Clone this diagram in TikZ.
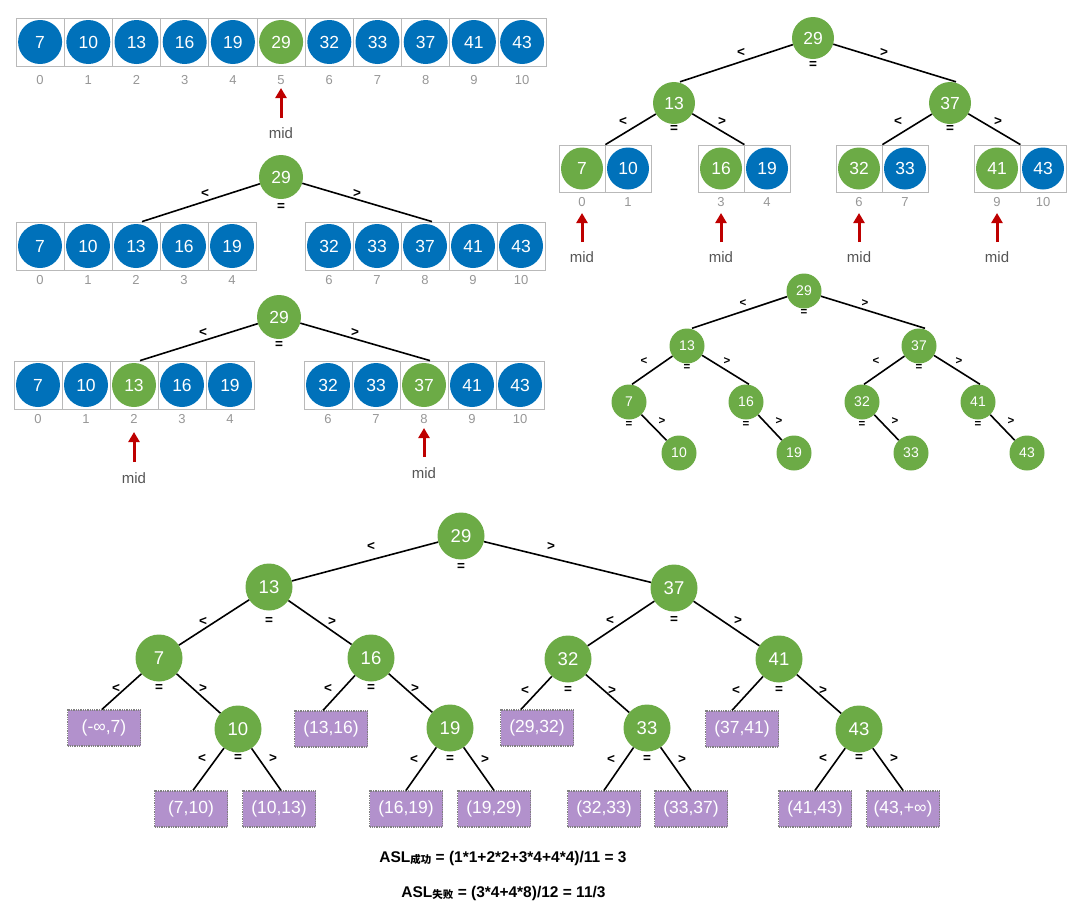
\documentclass[tikz,border=0pt]{standalone}
\usepackage{fontspec}
\setmainfont{Liberation Sans}
\newfontfamily\cjk{Noto Sans CJK SC}
\usetikzlibrary{arrows.meta}
\definecolor{bl}{RGB}{0,113,186}
\definecolor{gr}{RGB}{108,171,70}
\definecolor{pu}{RGB}{178,145,204}
\definecolor{rd}{RGB}{190,0,0}
\definecolor{ig}{RGB}{150,150,150}
\definecolor{cg}{RGB}{185,185,185}
\definecolor{mg}{RGB}{85,85,85}
\begin{document}
\begin{tikzpicture}[x=1pt,y=-1pt,
  ball/.style={circle,inner sep=0pt,minimum size=44pt,text=white,font=\fontsize{17.5}{17.5}\selectfont},
  tball/.style={circle,inner sep=0pt,minimum size=42pt,text=white,font=\fontsize{17.5}{17.5}\selectfont},
  sball/.style={circle,inner sep=0pt,minimum size=35pt,text=white,fill=gr,font=\fontsize{14}{14}\selectfont},
  bball/.style={circle,inner sep=0pt,minimum size=47pt,text=white,fill=gr,font=\fontsize{18.5}{18.5}\selectfont},
  cell/.style={draw=cg,line width=0.8pt,minimum width=48pt,minimum height=48pt,inner sep=0pt},
  tcell/.style={draw=cg,line width=0.8pt,minimum width=46pt,minimum height=47pt,inner sep=0pt},
  idx/.style={text=ig,font=\fontsize{13}{13}\selectfont,inner sep=1pt},
  midl/.style={text=mg,font=\fontsize{15}{15}\selectfont,inner sep=1pt},
  midarr/.style={draw=rd,line width=3pt,-{Triangle[width=11pt,length=10pt]}},
  rel/.style={font=\fontsize{13.5}{13.5}\selectfont\bfseries,inner sep=0pt},
  srel/.style={font=\fontsize{11.5}{11.5}\selectfont\bfseries,inner sep=0pt},
  edge/.style={draw=black,line width=1.6pt},
  ivbox/.style={fill=pu,draw=gray,densely dotted,line width=1.3pt,minimum width=73pt,minimum height=36pt,inner sep=0pt,text=white,font=\fontsize{17.5}{17.5}\selectfont},
  asl/.style={font=\fontsize{15.5}{15.5}\selectfont\bfseries,inner sep=0pt}
]
\path[use as bounding box] (0,0) rectangle (1071,911);

% ---------- row 1 : full array ----------
\foreach \v/\c [count=\n from 0] in {7/bl,10/bl,13/bl,16/bl,19/bl,29/gr,32/bl,33/bl,37/bl,41/bl,43/bl}{
  \node[cell,minimum width=48.2pt] (a\n) at ({40.1+48.2*\n},42) {};
  \node[ball,fill=\c] (ab\n) at (a\n) {\v};
  \node[idx] (ai\n) at ({40.1+48.2*\n},80) {\n};
}
\coordinate (a1t) at (281,118);
\coordinate (a1h) at (281,88);
\draw[midarr] (a1t) -- (a1h);
\node[midl] (am) at (281,133) {mid};

% ---------- row 2 ----------
\node[ball,fill=gr] (r2) at (281,177) {29};
\node[rel] (r2l) at (205,193) {<};
\node[rel] (r2g) at (357,193) {>};
\node[rel] (r2e) at (281,207) {=};
\foreach \v [count=\n from 0] in {7,10,13,16,19}{
  \node[cell] (b\n) at ({40+48*\n},246) {};
  \node[ball,fill=bl] (bb\n) at (b\n) {\v};
  \node[idx] (bi\n) at ({40+48*\n},280) {\n};
}
\foreach \v [count=\k from 0] in {32,33,37,41,43}{
  \pgfmathtruncatemacro{\n}{\k+6}
  \node[cell] (b\n) at ({329+48*\k},246) {};
  \node[ball,fill=bl] (bb\n) at (b\n) {\v};
  \node[idx] (bi\n) at ({329+48*\k},280) {\n};
}
\draw[edge] (r2) -- ([xshift=6pt]b2.north);
\draw[edge] (r2) -- ([xshift=7pt]b8.north);

% ---------- row 3 ----------
\node[ball,fill=gr] (r3) at (279,317) {29};
\node[rel] (r3l) at (203,332) {<};
\node[rel] (r3g) at (355,332) {>};
\node[rel] (r3e) at (279,345) {=};
\foreach \v/\c [count=\n from 0] in {7/bl,10/bl,13/gr,16/bl,19/bl}{
  \node[cell] (c\n) at ({38+48*\n},385) {};
  \node[ball,fill=\c] (cb\n) at (c\n) {\v};
  \node[idx] (ci\n) at ({38+48*\n},419) {\n};
}
\foreach \v/\c [count=\k from 0] in {32/bl,33/bl,37/gr,41/bl,43/bl}{
  \pgfmathtruncatemacro{\n}{\k+6}
  \node[cell] (c\n) at ({328+48*\k},385) {};
  \node[ball,fill=\c] (cb\n) at (c\n) {\v};
  \node[idx] (ci\n) at ({328+48*\k},419) {\n};
}
\draw[edge] (r3) -- ([xshift=6pt]c2.north);
\draw[edge] (r3) -- ([xshift=6pt]c8.north);
\coordinate (c3t) at (134,462);
\coordinate (c3h) at (134,432);
\draw[midarr] (c3t) -- (c3h);
\node[midl] (cm1) at (134,478) {mid};
\coordinate (c4t) at (424,457);
\coordinate (c4h) at (424,428);
\draw[midarr] (c4t) -- (c4h);
\node[midl] (cm2) at (424,473) {mid};

% ---------- top-right tree with pairs ----------
\node[tball,fill=gr] (t29) at (813,38) {29};
\node[tball,fill=gr] (t13) at (674,103) {13};
\node[tball,fill=gr] (t37) at (950,103) {37};
\node[rel] at (741,52) {<};
\node[rel] at (884,52) {>};
\node[rel] at (813,65) {=};
\node[rel] at (623,121) {<};
\node[rel] at (722,121) {>};
\node[rel] at (674,129) {=};
\node[rel] at (898,121) {<};
\node[rel] at (998,121) {>};
\node[rel] at (950,129) {=};
\draw[edge] (t29) -- ([xshift=6pt]t13.north);
\draw[edge] (t29) -- ([xshift=6pt]t37.north);
\foreach \x/\va/\vb/\ia/\ib/\p in {582/7/10/0/1/A,721/16/19/3/4/B,859/32/33/6/7/C,997/41/43/9/10/D}{
  \node[tcell] (p\p0) at (\x,168.5) {};
  \node[tcell] (p\p1) at (\x+46,168.5) {};
  \node[tball,fill=gr] (pb\p0) at (p\p0) {\va};
  \node[tball,fill=bl] (pb\p1) at (p\p1) {\vb};
  \node[idx] (pi\p0) at (\x,202) {\ia};
  \node[idx] (pi\p1) at (\x+46,202) {\ib};
  \coordinate (pt\p) at (\x,242);
  \coordinate (ph\p) at (\x,213);
  \draw[midarr] (pt\p) -- (ph\p);
  \node[midl] (pm\p) at (\x,257) {mid};
}
\draw[edge] (t13) -- (pA0.north east);
\draw[edge] (t13) -- (pB0.north east);
\draw[edge] (t37) -- (pC0.north east);
\draw[edge] (t37) -- (pD0.north east);

% ---------- middle-right small tree ----------
\node[sball] (m29) at (804,291) {29};
\node[sball] (m13) at (687,346) {13};
\node[sball] (m37) at (919,346) {37};
\node[sball] (m7) at (629,402) {7};
\node[sball] (m16) at (746,402) {16};
\node[sball] (m32) at (862,402) {32};
\node[sball] (m41) at (978,402) {41};
\node[sball] (m10) at (679,453) {10};
\node[sball] (m19) at (794,453) {19};
\node[sball] (m33) at (911,453) {33};
\node[sball] (m43) at (1027,453) {43};
\node[srel] at (743,303) {<};
\node[srel] at (865,303) {>};
\node[srel] at (804,313) {=};
\node[srel] at (644,361) {<};
\node[srel] at (727,361) {>};
\node[srel] at (687,368) {=};
\node[srel] at (876,361) {<};
\node[srel] at (959,361) {>};
\node[srel] at (919,368) {=};
\foreach \x in {629,746,862,978}{
  \node[srel] at (\x,425) {=};
  \node[srel] at (\x+33,421) {>};
}
\draw[edge] (m29) -- ([xshift=5pt]m13.north);
\draw[edge] (m29) -- ([xshift=6pt]m37.north);
\draw[edge] (m13) -- ([xshift=3pt]m7.north);
\draw[edge] (m13) -- ([xshift=3pt]m16.north);
\draw[edge] (m37) -- ([xshift=2pt]m32.north);
\draw[edge] (m37) -- ([xshift=2pt]m41.north);
\draw[edge] (m7) -- (m10);
\draw[edge] (m16) -- (m19);
\draw[edge] (m32) -- (m33);
\draw[edge] (m41) -- (m43);

% ---------- bottom full decision tree ----------
\node[bball] (b29) at (461,536) {29};
\node[bball] (b13) at (269,587) {13};
\node[bball] (b37) at (674,588) {37};
\node[bball] (b7) at (159,658) {7};
\node[bball] (b16) at (371,658) {16};
\node[bball] (b32) at (568,659) {32};
\node[bball] (b41) at (779,659) {41};
\node[bball] (b10) at (238,729) {10};
\node[bball] (b19) at (450,728) {19};
\node[bball] (b33) at (647,728) {33};
\node[bball] (b43) at (859,729) {43};

\node[ivbox] (x1) at (104,728) {(-∞,7)};
\node[ivbox] (x2) at (331,729) {(13,16)};
\node[ivbox] (x3) at (537,728) {(29,32)};
\node[ivbox] (x4) at (742,729) {(37,41)};
\node[ivbox] (y1) at (191,809) {(7,10)};
\node[ivbox] (y2) at (279,809) {(10,13)};
\node[ivbox] (y3) at (406,809) {(16,19)};
\node[ivbox] (y4) at (494,809) {(19,29)};
\node[ivbox] (y5) at (604,809) {(32,33)};
\node[ivbox] (y6) at (691,809) {(33,37)};
\node[ivbox] (y7) at (815,809) {(41,43)};
\node[ivbox] (y8) at (903,809) {(43,+∞)};

\node[rel] at (371,546) {<};
\node[rel] at (551,546) {>};
\node[rel] at (461,567) {=};
\node[rel] at (203,621) {<};
\node[rel] at (332,621) {>};
\node[rel] at (269,621) {=};
\node[rel] at (610,620) {<};
\node[rel] at (738,620) {>};
\node[rel] at (674,620) {=};
\foreach \x/\y in {159/688,371/688,568/690,779/690}{
  \node[rel] at (\x-43,\y) {<};
  \node[rel] at (\x,\y) {=};
  \node[rel] at (\x+44,\y) {>};
}
\foreach \x/\y in {238/758,450/759,647/759,859/758}{
  \node[rel] at (\x-36,\y) {<};
  \node[rel] at (\x,\y) {=};
  \node[rel] at (\x+35,\y) {>};
}

\draw[edge] (b29) -- (b13);
\draw[edge] (b29) -- (b37);
\draw[edge] (b13) -- (b7);
\draw[edge] (b13) -- (b16);
\draw[edge] (b37) -- (b32);
\draw[edge] (b37) -- (b41);
\draw[edge] (b7) -- ([xshift=-2pt]x1.north);
\draw[edge] (b7) -- (b10);
\draw[edge] (b16) -- ([xshift=-8pt]x2.north);
\draw[edge] (b16) -- (b19);
\draw[edge] (b32) -- ([xshift=-16pt]x3.north);
\draw[edge] (b32) -- (b33);
\draw[edge] (b41) -- ([xshift=-10pt]x4.north);
\draw[edge] (b41) -- (b43);
\draw[edge] (b10) -- ([xshift=2pt]y1.north);
\draw[edge] (b10) -- ([xshift=2pt]y2.north);
\draw[edge] (b19) -- (y3.north);
\draw[edge] (b19) -- (y4.north);
\draw[edge] (b33) -- (y5.north);
\draw[edge] (b33) -- (y6.north);
\draw[edge] (b43) -- (y7.north);
\draw[edge] (b43) -- (y8.north);

% ---------- formulas ----------
\node[asl] (f1) at (503,858) {ASL\raisebox{-1.5pt}{\cjk\fontsize{10.5}{10.5}\selectfont 成功} = (1*1+2*2+3*4+4*4)/11 = 3};
\node[asl] (f2) at (503.5,893) {ASL\raisebox{-1.5pt}{\cjk\fontsize{10.5}{10.5}\selectfont 失败} = (3*4+4*8)/12 = 11/3};
\end{tikzpicture}
\end{document}
